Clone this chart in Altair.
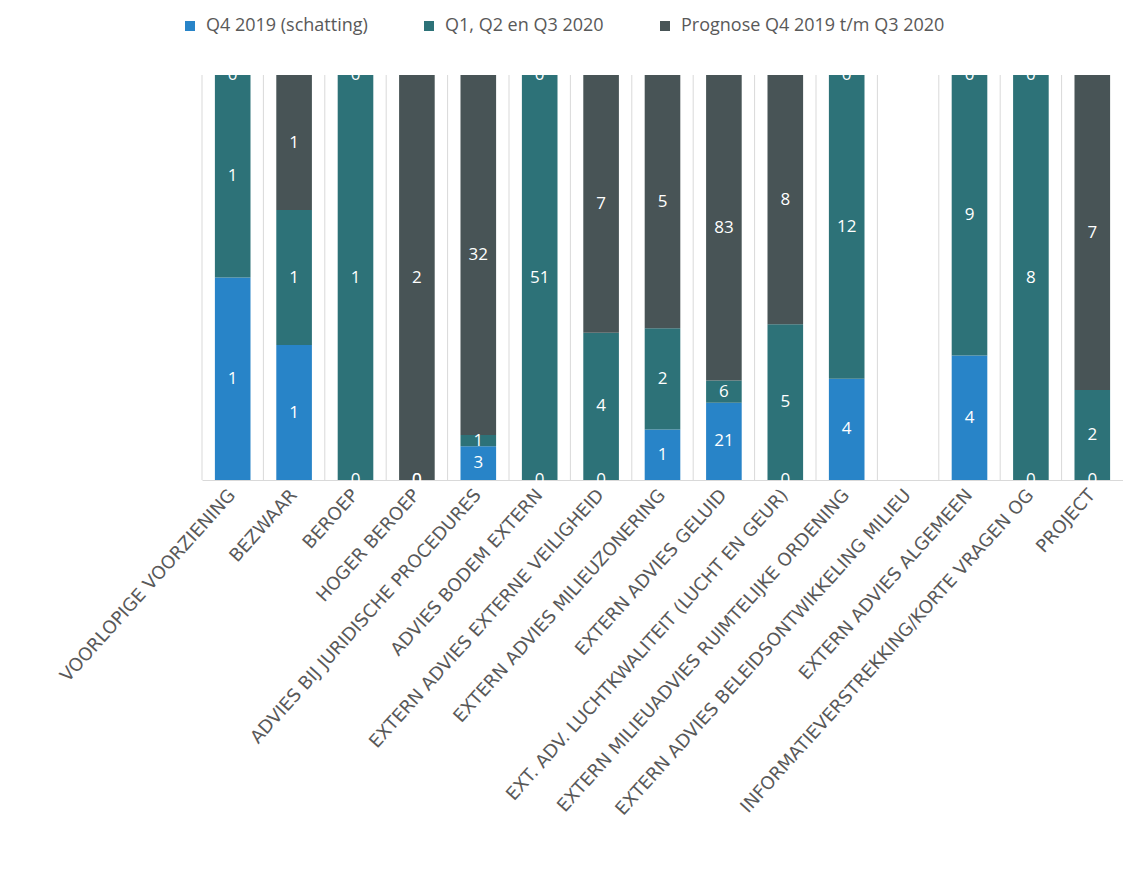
import altair as alt
import pandas as pd

categories = [
    "VOORLOPIGE VOORZIENING",
    "BEZWAAR",
    "BEROEP",
    "HOGER BEROEP",
    "ADVIES BIJ JURIDISCHE PROCEDURES",
    "ADVIES BODEM EXTERN",
    "EXTERN ADVIES EXTERNE VEILIGHEID",
    "EXTERN ADVIES MILIEUZONERING",
    "EXTERN ADVIES GELUID",
    "EXT. ADV. LUCHTKWALITEIT (LUCHT EN GEUR)",
    "EXTERN MILIEUADVIES RUIMTELIJKE ORDENING",
    "EXTERN ADVIES BELEIDSONTWIKKELING MILIEU",
    "EXTERN ADVIES ALGEMEEN",
    "INFORMATIEVERSTREKKING/KORTE VRAGEN OG",
    "PROJECT",
]
series = ["Q4 2019 (schatting)", "Q1, Q2 en Q3 2020", "Prognose Q4 2019 t/m Q3 2020"]
q4_2019 = [1, 1, 0, 0, 3, 0, 0, 1, 21, 0, 4, 0, 4, 0, 0]
q1_q3_2020 = [1, 1, 1, 0, 1, 51, 4, 2, 6, 5, 12, 0, 9, 8, 2]
prognose = [0, 1, 0, 2, 32, 0, 7, 5, 83, 8, 0, 0, 0, 0, 7]
colors = ["#2884C8", "#2D7278", "#485456"]

rows = []
for i, c in enumerate(categories):
    for k, vals in enumerate([q4_2019, q1_q3_2020, prognose]):
        rows.append({"cat": c, "series": series[k], "order": k, "value": vals[i]})
df = pd.DataFrame(rows)

W, H = 921, 405

axis = alt.Axis(
    title=None, labelAngle=312, labelFontSize=18, labelFont="DejaVu Sans",
    labelColor="#595959", ticks=False, domainColor="#d9d9d9", grid=False,
    labelPadding=12, labelLimit=800,
)
xscale = alt.Scale(paddingInner=0, paddingOuter=0)

base = (
    alt.Chart(df)
    .transform_joinaggregate(total="sum(value)", groupby=["cat"])
    .transform_filter("datum.total > 0")
    .transform_stack(
        stack="value", groupby=["cat"], as_=["y0", "y1"], offset="normalize",
        sort=[alt.SortField("order", order="ascending")],
    )
    .transform_calculate(ymid="(datum.y0 + datum.y1) / 2")
)

rules = alt.Chart(pd.DataFrame({"cat": categories})).mark_rule(
    color="#d9d9d9", strokeWidth=1
).encode(
    x=alt.X("cat:N", sort=categories, scale=xscale, axis=axis, bandPosition=0),
    y=alt.value(0),
    y2=alt.value(H),
)

bars = base.mark_bar(width=alt.RelativeBandSize(0.58)).encode(
    x=alt.X("cat:N", sort=categories, scale=xscale, axis=axis),
    y=alt.Y("y0:Q", scale=alt.Scale(domain=[0, 1]), axis=None),
    y2="y1:Q",
    color=alt.Color(
        "series:N", sort=series,
        scale=alt.Scale(domain=series, range=colors),
        legend=alt.Legend(
            orient="none", legendX=-21, legendY=-58, direction="horizontal",
            title=None, symbolType="square", symbolSize=100, symbolStrokeWidth=0,
            labelFontSize=18, labelFont="Open Sans", labelColor="#595959",
            columnPadding=52, labelOffset=7, labelLimit=500,
        ),
    ),
)

text = base.mark_text(
    color="white", fontSize=17, font="Open Sans", baseline="middle"
).encode(
    x=alt.X("cat:N", sort=categories, scale=xscale, axis=axis),
    y=alt.Y("ymid:Q", scale=alt.Scale(domain=[0, 1]), axis=None),
    text="value:Q",
)

chart = (
    alt.layer(rules, bars, text)
    .properties(
        width=W, height=H,
        padding={"left": 194, "top": 67, "right": 0, "bottom": 380},
        autosize=alt.AutoSizeParams(type="none"),
    )
    .configure_view(stroke=None)
)

chart.save("out.html", embed_options={"renderer": "svg", "actions": False})
